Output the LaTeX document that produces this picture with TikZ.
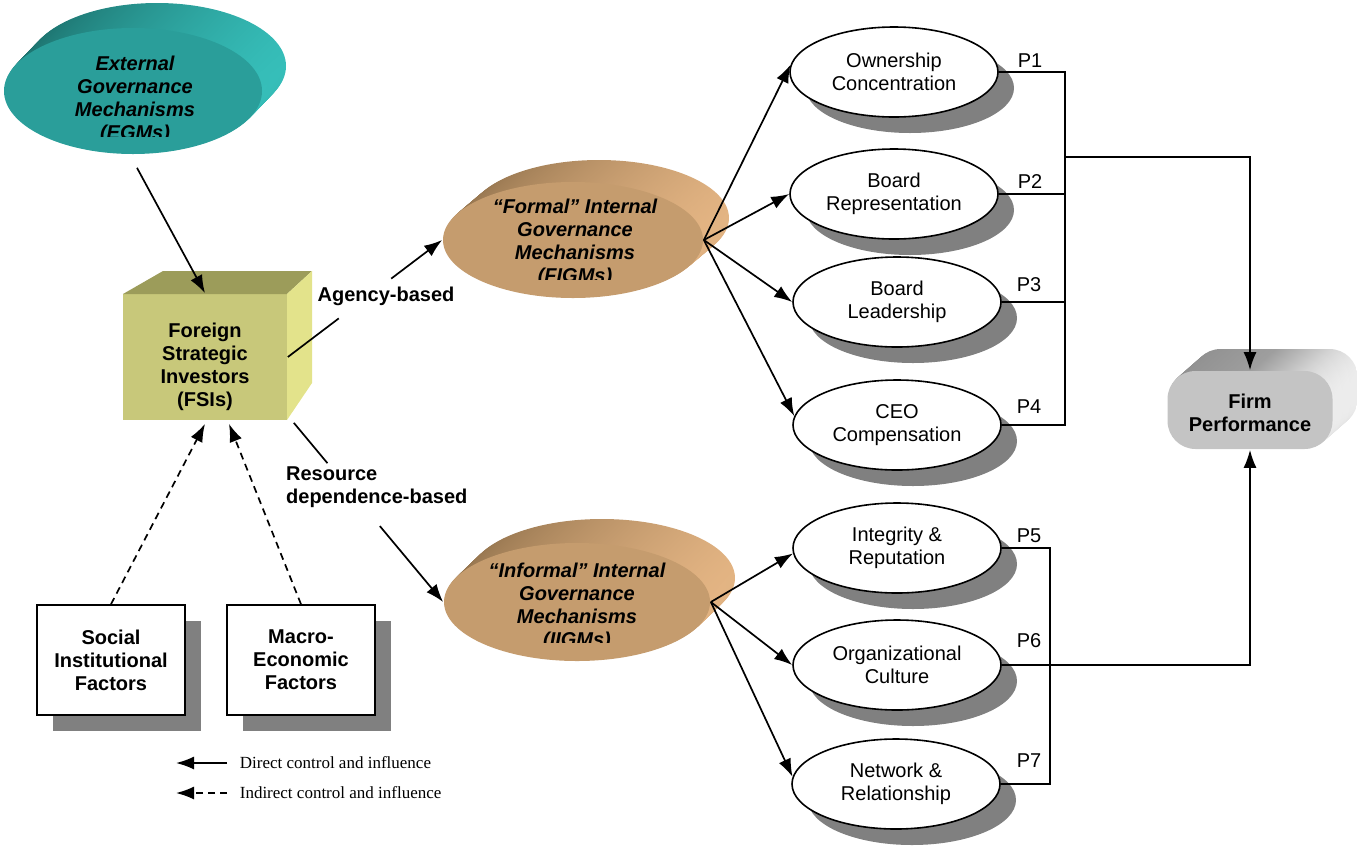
\documentclass[tikz,border=0pt]{standalone}
\usepackage{fontspec}
\setmainfont{Liberation Sans}
\newfontfamily\legfont{Liberation Serif}
\usetikzlibrary{shapes.geometric, arrows.meta, calc}

\definecolor{egmF}{HTML}{2A9E9A}
\definecolor{egmD}{HTML}{1C706C}
\definecolor{egmL}{HTML}{36BEB9}
\definecolor{tanF}{HTML}{C59C6E}
\definecolor{tanD}{HTML}{94744E}
\definecolor{tanL}{HTML}{E3B483}
\definecolor{fsiF}{HTML}{C8C87A}
\definecolor{fsiT}{HTML}{9C9C5A}
\definecolor{fsiR}{HTML}{E3E38B}
\definecolor{shad}{HTML}{808080}

\begin{document}
\begin{tikzpicture}[x=1pt, y=-1pt, line width=1.7pt,
  >={Latex[length=18pt,width=13pt]},
  txt/.style={font=\fontsize{20}{23}\selectfont, align=center},
  btxt/.style={font=\fontsize{20}{23}\selectfont\bfseries, align=center},
  bitxt/.style={font=\fontsize{20}{23}\selectfont\bfseries\itshape, align=center},
  legtxt/.style={font=\fontsize{17}{20}\selectfont\legfont, anchor=west, inner sep=3pt},
  oval/.style={ellipse, draw=black, line width=1.6pt, fill=white, minimum width=208pt, minimum height=90pt, inner sep=0pt, txt},
  ovalshadow/.style={ellipse, fill=shad, minimum width=208pt, minimum height=90pt, inner sep=0pt},
  egml/.style={ellipse, minimum width=258pt, minimum height=126pt, inner sep=0pt, left color=egmD, right color=egmL},
  egmfront/.style={ellipse, minimum width=258pt, minimum height=126pt, inner sep=0pt, fill=egmF},
  figl/.style={ellipse, minimum width=260pt, minimum height=116pt, inner sep=0pt, left color=tanD, right color=tanL},
  figfront/.style={ellipse, minimum width=260pt, minimum height=116pt, inner sep=0pt, fill=tanF},
  iigl/.style={ellipse, minimum width=266pt, minimum height=118pt, inner sep=0pt, left color=tanD, right color=tanL},
  iigfront/.style={ellipse, minimum width=266pt, minimum height=118pt, inner sep=0pt, fill=tanF},
  fpl/.style={rectangle, rounded corners=28pt, minimum width=165pt, minimum height=78pt, inner sep=0pt, left color=black!44, right color=black!7, middle color=black!38},
  fpfront/.style={rectangle, rounded corners=28pt, minimum width=165pt, minimum height=78pt, inner sep=0pt, fill=black!23},
  factbox/.style={rectangle, draw=black, line width=1.6pt, fill=white, minimum width=148pt, minimum height=110pt, inner sep=0pt, btxt},
  factshadow/.style={rectangle, fill=shad, minimum width=148pt, minimum height=110pt, inner sep=0pt},
  dashedline/.style={dash pattern=on 7pt off 5pt}
]
\useasboundingbox (0,0) rectangle (1357,847);

% ---------- External Governance Mechanisms ----------
\foreach \k in {25,24,...,1} \node[egml] at ({133+0.96*\k},{91-\k}) {};
\node[egmfront] (egm) at (133,91) {};
\begin{scope}
  \clip (0,0) rectangle (300,136);
  \node[bitxt] (egmt) at (135,100) {External\\Governance\\Mechanisms\\(EGMs)};
\end{scope}

% ---------- Foreign Strategic Investors (cube) ----------
\node[fill=fsiF, minimum width=164pt, minimum height=126pt, inner sep=0pt] (fsi) at (205,357) {};
\fill[fsiT] (123,294) -- (163,271) -- (312,271) -- (287,294) -- cycle;
\fill[fsiR] (287,294) -- (312,271) -- (312,383) -- (287,420) -- cycle;
\node[btxt] (fsit) at (205,367) {Foreign\\Strategic\\Investors\\(FSIs)};

% ---------- Formal IGMs ----------
\foreach \k in {22,21,...,1} \node[figl] at ({573+1.18*\k},{240-\k}) {};
\node[figfront] (fig) at (573,240) {};
\begin{scope}
  \clip (400,150) rectangle (760,279);
  \node[bitxt] (figt) at (575,243) {“Formal” Internal\\Governance\\Mechanisms\\(FIGMs)};
\end{scope}

% ---------- Informal IGMs ----------
\foreach \k in {24,23,...,1} \node[iigl] at ({577+1.04*\k},{602-\k}) {};
\node[iigfront] (iig) at (577,602) {};
\begin{scope}
  \clip (400,500) rectangle (760,642);
  \node[bitxt] (iigt) at (577,607) {“Informal” Internal\\Governance\\Mechanisms\\(IIGMs)};
\end{scope}

% ---------- Factor boxes ----------
\node[factshadow] at (127,676) {};
\node[factbox] (soc) at (111,660) {Social\\Institutional\\Factors};
\node[factshadow] at (317,676) {};
\node[factbox] (mac) at (301,660) {Macro-\\Economic\\Factors};

% ---------- Right-hand ovals ----------
\node[ovalshadow] at (910,88) {};
\node[oval] (own) at (894,72) {Ownership\\Concentration};
\node[ovalshadow] at (910,210) {};
\node[oval] (brd) at (894,194) {Board\\Representation};
\node[ovalshadow] at (913,318) {};
\node[oval] (lead) at (897,302) {Board\\Leadership};
\node[ovalshadow] at (913,441) {};
\node[oval] (ceo) at (897,425) {CEO\\Compensation};
\node[ovalshadow] at (913,564) {};
\node[oval] (integ) at (897,548) {Integrity \&\\Reputation};
\node[ovalshadow] at (913,681) {};
\node[oval] (org) at (897,665) {Organizational\\Culture};
\node[ovalshadow] at (912,800) {};
\node[oval] (net) at (896,784) {Network \&\\Relationship};

% ---------- Firm Performance ----------
\foreach \k in {22,21,...,1} \node[fpl] at ({1250+1.14*\k},{410-\k}) {};
\node[fpfront] (fp) at (1250,410) {};
\node[btxt] (fpt) at (1250,413) {Firm\\Performance};

% ---------- Connectors ----------
\draw[->] ($(egm.south)+(4,13)$) -- (fsi.north);

\path (fsi.east) -- (fig.west) coordinate[pos=0.33] (ag1) coordinate[pos=0.67] (ag2);
\draw (fsi.east) -- (ag1);
\draw[->] (ag2) -- (fig.west);
\node[btxt] (aglab) at (386,296) {Agency-based};

\path ($(fsi.south east)+(6,2)$) -- (iig.west) coordinate[pos=0.225] (rd1) coordinate[pos=0.576] (rd2);
\draw ($(fsi.south east)+(6,2)$) -- (rd1);
\draw[->] (rd2) -- (iig.west);
\node[btxt, align=left, anchor=west] (rdlab) at (282,487) {Resource\\dependence-based};

\draw[->, dashedline] (soc.north) -- ($(fsi.south)+(0,3)$);
\draw[->, dashedline] (mac.north) -- ($(fsi.south)+(24,3)$);

\draw[->] (fig.east) -- (own.176);
\draw[->] (fig.east) -- (brd.west);
\draw[->] (fig.east) -- (lead.west);
\draw[->] (fig.east) -- (ceo.175);

\draw[->] (iig.east) -- (integ.183);
\draw[->] (iig.east) -- (org.west);
\draw[->] (iig.east) -- (net.176);

% ---------- Proposition lines ----------
\coordinate (sp1) at (1065,157);
\draw (own.east) -- (own.east -| sp1) -- (ceo.east -| sp1) -- (ceo.east);
\draw (brd.east) -- (brd.east -| sp1);
\draw (lead.east) -- (lead.east -| sp1);
\draw[->] (sp1) -| (fp.north);

\coordinate (sp2) at (1050,600);
\draw (integ.east) -- (integ.east -| sp2) -- (net.east -| sp2) -- (net.east);
\draw[->] (org.east) -| (fp.south);

\node[txt] (p1) at (1030,61) {P1};
\node[txt] (p2) at (1030,182) {P2};
\node[txt] (p3) at (1029,285) {P3};
\node[txt] (p4) at (1029,407) {P4};
\node[txt] (p5) at (1029,536) {P5};
\node[txt] (p6) at (1029,641) {P6};
\node[txt] (p7) at (1029,761) {P7};

% ---------- Legend ----------
\node[legtxt] (lg1) at (236,763) {Direct control and influence};
\node[legtxt] (lg2) at (236,793) {Indirect control and influence};
\coordinate (lg1e) at (176,763);
\coordinate (lg2e) at (176,793);
\draw[->] ($(lg1.west)+(-9,0)$) -- (lg1e);
\draw[->, dashedline] ($(lg2.west)+(-9,0)$) -- (lg2e);
\end{tikzpicture}
\end{document}
